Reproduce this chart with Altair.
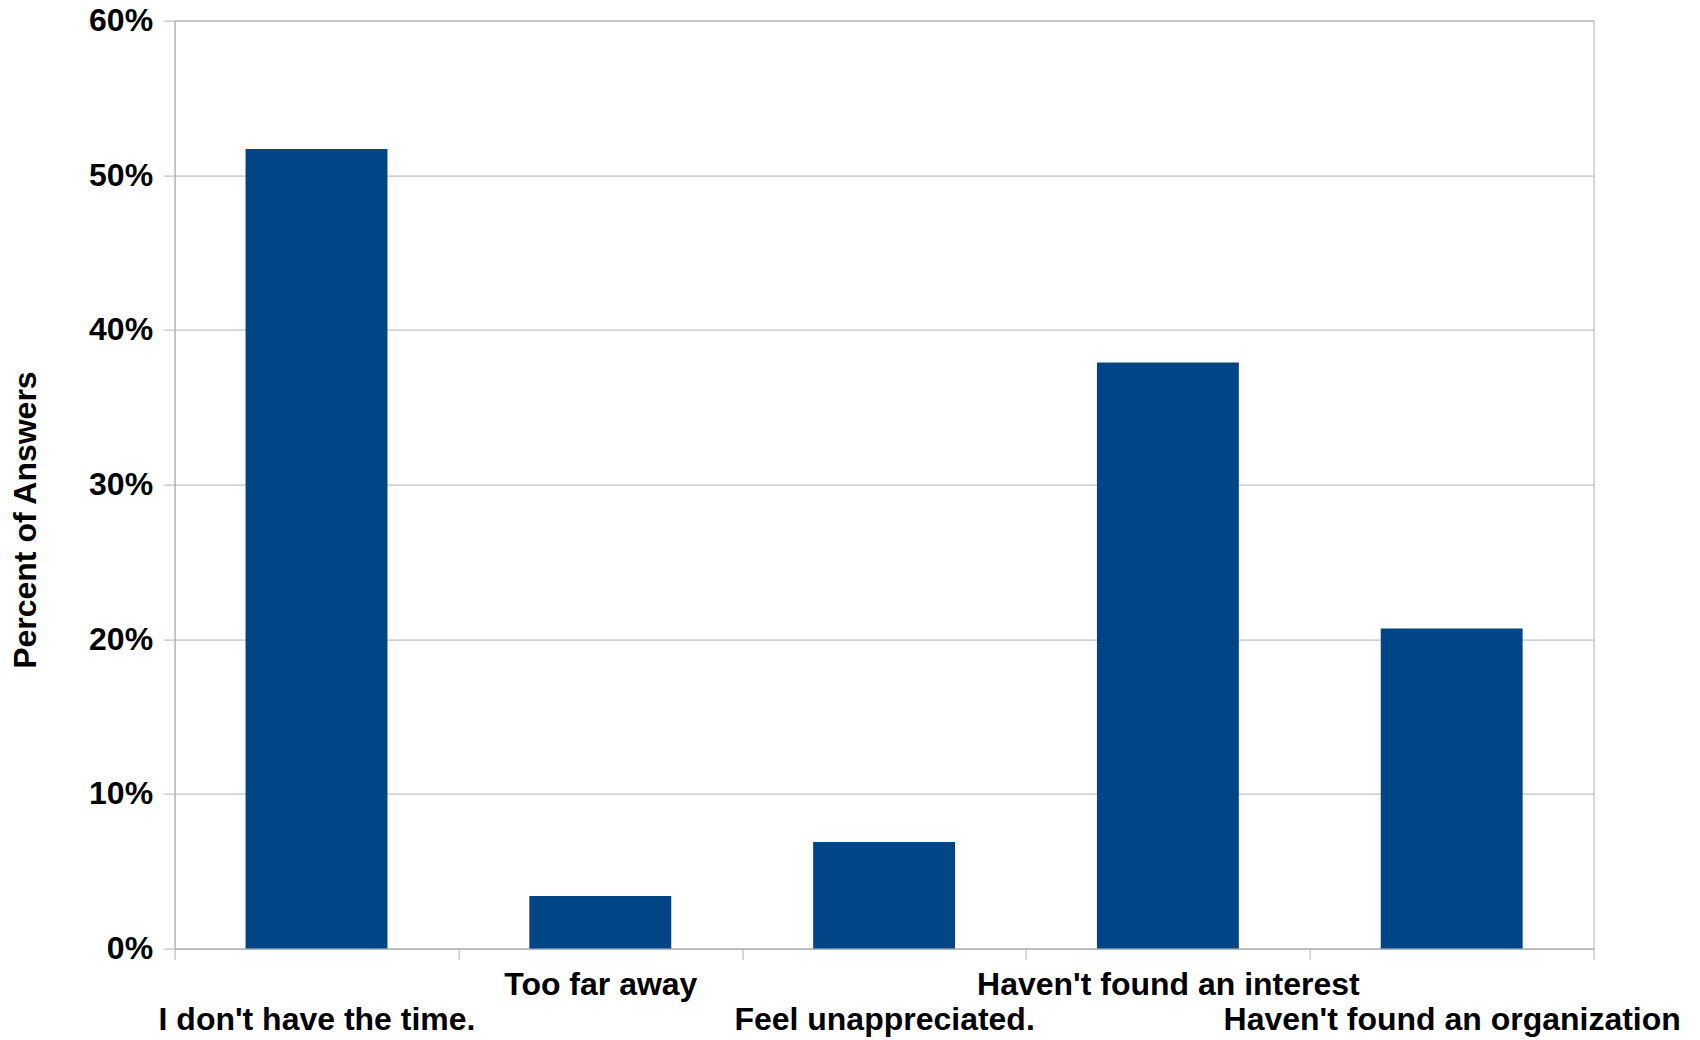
import json
import altair as alt
import pandas as pd

categories = [
    "I don't have the time.",
    "Too far away",
    "Feel unappreciated.",
    "Haven't found an interest",
    "Haven't found an organization",
]
percents = [0.517, 0.034, 0.069, 0.379, 0.207]
y_ticks = [0, 0.1, 0.2, 0.3, 0.4, 0.5, 0.6]

df = pd.DataFrame({"reason": categories, "pct": percents})

upper_row = [categories[1], categories[3]]
label_expr = (
    f"indexof({json.dumps(upper_row)}, datum.value) >= 0 ? datum.label : ['', datum.label]"
)

FONT = "Liberation Sans"
GRAY = "#b3b3b3"

chart = (
    alt.Chart(df)
    .mark_bar(color="#004586", width=alt.RelativeBandSize(0.5))
    .encode(
        x=alt.X(
            "reason:N",
            sort=categories,
            title=None,
            scale=alt.Scale(paddingInner=0, paddingOuter=0),
            axis=alt.Axis(
                labelAngle=0,
                tickBand="extent",
                labelExpr=label_expr,
                labelLineHeight=35,
                labelFontSize=32,
                labelFontWeight="bold",
                labelFont=FONT,
                labelColor="black",
                labelPadding=10,
                labelBaseline="top",
                labelOverlap=False,
                labelLimit=1000,
                tickSize=11,
                tickColor=GRAY,
                domainColor=GRAY,
                grid=False,
            ),
        ),
        y=alt.Y(
            "pct:Q",
            scale=alt.Scale(domain=[0, 0.6], nice=False),
            axis=alt.Axis(
                values=y_ticks,
                format=".0%",
                title="Percent of Answers",
                titleFont=FONT,
                titleFontSize=32,
                titleFontWeight="bold",
                titleColor="black",
                titlePadding=46,
                titleY=499,
                labelFont=FONT,
                labelFontSize=32,
                labelFontWeight="bold",
                labelColor="black",
                labelPadding=11,
                tickSize=11,
                tickColor=GRAY,
                domainColor=GRAY,
                gridColor=GRAY,
                gridWidth=1,
            ),
        ),
    )
    .properties(
        width=1419,
        height=928,
        autosize=alt.AutoSizeParams(type="none"),
        padding={"left": 166.6, "top": 12.6, "right": 98, "bottom": 96},
    )
    .configure_view(stroke=GRAY)
)

chart.save("out.html", embed_options={"renderer": "svg", "actions": False})
